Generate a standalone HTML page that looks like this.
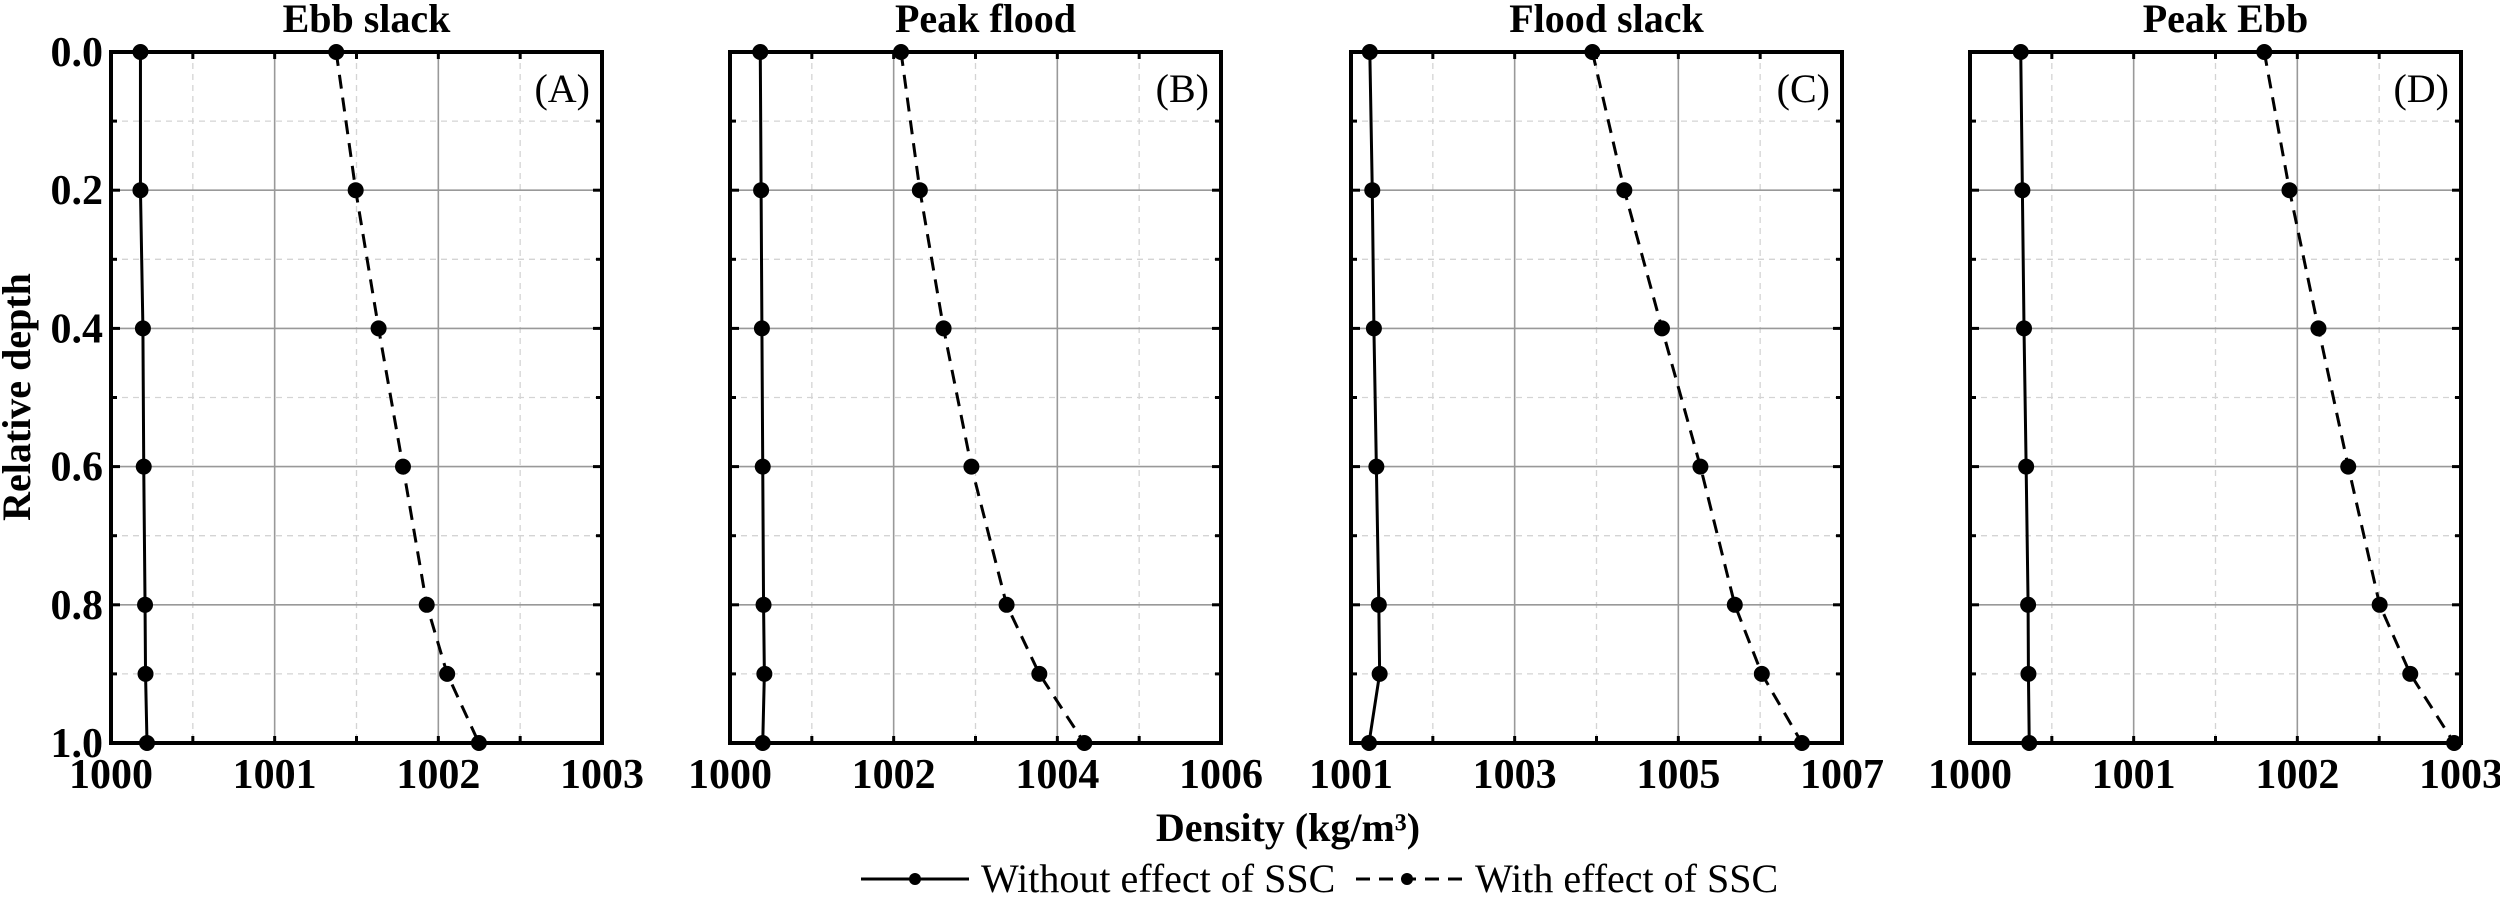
<!DOCTYPE html>
<html><head><meta charset="utf-8"><style>
html,body{margin:0;padding:0;background:#fff;}
svg, svg text{font-family:"Liberation Serif","Times New Roman",serif !important;}
</style></head><body>
<svg id="chart" width="2500" height="897" viewBox="0 0 2500 897" xmlns="http://www.w3.org/2000/svg" font-family="Liberation Serif, serif">
<text transform="translate(30,397) rotate(-90)" text-anchor="middle" font-weight="bold" font-size="40">Relative depth</text>
<text x="1288" y="841" text-anchor="middle" font-weight="bold" font-size="40">Density (kg/m³)</text>
<g>
<line x1="861" y1="879" x2="969" y2="879" stroke="#000" stroke-width="3"/>
<circle cx="915" cy="879" r="6" fill="#000"/>
<text x="981" y="892" font-size="40">Without effect of SSC</text>
<line x1="1356" y1="879" x2="1463" y2="879" stroke="#000" stroke-width="3" stroke-dasharray="14,9"/>
<circle cx="1407" cy="879" r="6" fill="#000"/>
<text x="1475" y="892" font-size="40">With effect of SSC</text>
</g>
</svg>
<script>
const depths = [0, 0.2, 0.4, 0.6, 0.8, 0.9, 1.0];
const panelTitles = ["Ebb slack", "Peak flood", "Flood slack", "Peak Ebb"];
const panelLetters = ["(A)", "(B)", "(C)", "(D)"];
const xMins = [1000, 1000, 1001, 1000];
const xMaxs = [1003, 1006, 1007, 1003];
const xMajorSteps = [1, 2, 2, 1];
const withoutA = [1000.18, 1000.18, 1000.195, 1000.20, 1000.208, 1000.211, 1000.22];
const withA = [1001.376, 1001.495, 1001.635, 1001.784, 1001.929, 1002.054, 1002.248];
const withoutB = [1000.37, 1000.38, 1000.39, 1000.40, 1000.41, 1000.42, 1000.40];
const withB = [1002.09, 1002.32, 1002.61, 1002.95, 1003.38, 1003.78, 1004.33];
const withoutC = [1001.23, 1001.26, 1001.28, 1001.31, 1001.34, 1001.35, 1001.22];
const withC = [1003.95, 1004.34, 1004.80, 1005.27, 1005.69, 1006.02, 1006.51];
const withoutD = [1000.31, 1000.32, 1000.33, 1000.343, 1000.355, 1000.357, 1000.362];
const withD = [1001.798, 1001.952, 1002.129, 1002.311, 1002.503, 1002.69, 1002.958];
const yTickLabels = ["0.0", "0.2", "0.4", "0.6", "0.8", "1.0"];

const withoutSeries = [withoutA, withoutB, withoutC, withoutD];
const withSeries = [withA, withB, withC, withD];
const NS = "http://www.w3.org/2000/svg";
const svg = document.getElementById("chart");
const lefts = [111, 730, 1351, 1970];
const W = 491, top0 = 52, bot = 743;
function mk(tag, attrs, parent) {
  const e = document.createElementNS(NS, tag);
  for (const k in attrs) e.setAttribute(k, attrs[k]);
  parent.appendChild(e);
  return e;
}
for (let p = 0; p < 4; p++) {
  const L = lefts[p], R = L + W;
  const xs = v => L + (v - xMins[p]) / (xMaxs[p] - xMins[p]) * W;
  const ys = d => top0 + d * (bot - top0);
  const g = mk("g", {}, svg);
  
  
  const grid = mk("g", {}, g);
  
  
  const maj = xMajorSteps[p], minr = maj / 2;
  for (let v = xMins[p] + minr; v < xMaxs[p] - 1e-9; v += minr) {
    const isMaj = Math.abs(((v - xMins[p]) / maj) - Math.round((v - xMins[p]) / maj)) < 1e-6;
    mk("line", {x1: xs(v), x2: xs(v), y1: top0, y2: bot, stroke: isMaj ? "#999" : "#d4d4d4", "stroke-width": isMaj ? 1.6 : 1.3, "stroke-dasharray": isMaj ? "none" : "6,5"}, grid);
  }
  for (let i = 1; i < 10; i++) {
    const d = i / 10, isMaj = i % 2 === 0;
    mk("line", {x1: L, x2: R, y1: ys(d), y2: ys(d), stroke: isMaj ? "#999" : "#d4d4d4", "stroke-width": isMaj ? 1.6 : 1.3, "stroke-dasharray": isMaj ? "none" : "6,5"}, grid);
  }
  for (let i = 0; i <= 10; i++) {
    const y = ys(i / 10), len = i % 2 === 0 ? 9 : 6;
    mk("line", {x1: L, x2: L + len, y1: y, y2: y, stroke: "#000", "stroke-width": 3}, g);
    mk("line", {x1: R, x2: R - len, y1: y, y2: y, stroke: "#000", "stroke-width": 3}, g);
  }
  for (let v = xMins[p]; v <= xMaxs[p] + 1e-9; v += minr) {
    mk("line", {x1: xs(v), x2: xs(v), y1: bot, y2: bot - 7, stroke: "#000", "stroke-width": 3}, g);
    mk("line", {x1: xs(v), x2: xs(v), y1: top0, y2: top0 + 7, stroke: "#000", "stroke-width": 3}, g);
  }
  for (let v = xMins[p]; v <= xMaxs[p] + 1e-9; v += maj) {
    const t = mk("text", {x: xs(v), y: 788, "text-anchor": "middle", "font-weight": "bold", "font-size": 42}, g);
    
    
    t.textContent = String(v);
  }
  if (p === 0) {
    yTickLabels.forEach((lab, i) => {
      const t = mk("text", {x: 103, y: ys(i * 0.2) + 14, "text-anchor": "end", "font-weight": "bold", "font-size": 42}, g);
      
      
      t.textContent = lab;
    });
  }
  const sol = withoutSeries[p], das = withSeries[p];
  const ptsS = depths.map((d, i) => xs(sol[i]) + "," + ys(d)).join(" ");
  const ptsD = depths.map((d, i) => xs(das[i]) + "," + ys(d)).join(" ");
  const ls = mk("polyline", {points: ptsS, fill: "none", stroke: "#000", "stroke-width": 3}, g);
  
  
  const ld = mk("polyline", {points: ptsD, fill: "none", stroke: "#000", "stroke-width": 3, "stroke-dasharray": "14,9"}, g);
  
  
  depths.forEach((d, i) => {
    const c1 = mk("circle", {cx: xs(sol[i]), cy: ys(d), r: 8, fill: "#000"}, g);
    
    
    const c2 = mk("circle", {cx: xs(das[i]), cy: ys(d), r: 8, fill: "#000"}, g);
    
    
  });
  const fr = mk("rect", {x: L, y: top0, width: W, height: bot - top0, fill: "none", stroke: "#000", "stroke-width": 4}, g);
  
  
  const tt = mk("text", {x: L + W / 2 + 10, y: 32, "text-anchor": "middle", "font-weight": "bold", "font-size": 40}, g);
  
  
  tt.textContent = panelTitles[p];
  const lt = mk("text", {x: R - 12, y: 102, "text-anchor": "end", "font-size": 40}, g);
  
  
  lt.textContent = panelLetters[p];
}
</script>
</body></html>
